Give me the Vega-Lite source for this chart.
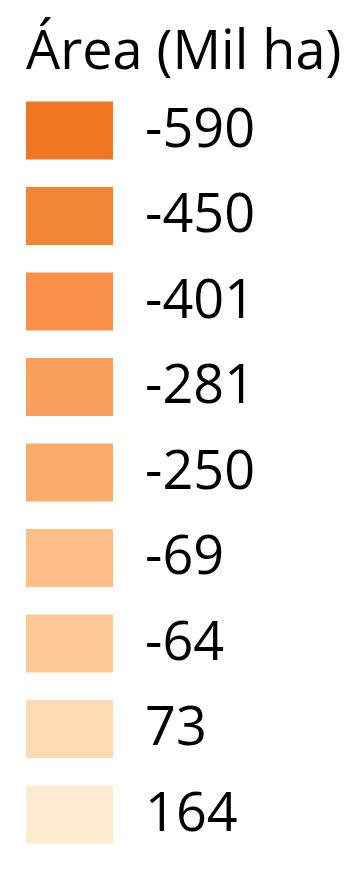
{
  "$schema": "https://vega.github.io/schema/vega-lite/v6.json",
  "width": 360,
  "height": 871,
  "autosize": {"type": "none"},
  "padding": 0,
  "background": "white",
  "data": {
    "values": [
      {"area": "-590", "ord": 1},
      {"area": "-450", "ord": 2},
      {"area": "-401", "ord": 3},
      {"area": "-281", "ord": 4},
      {"area": "-250", "ord": 5},
      {"area": "-69", "ord": 6},
      {"area": "-64", "ord": 7},
      {"area": "73", "ord": 8},
      {"area": "164", "ord": 9}
    ]
  },
  "mark": {"type": "point", "filled": true, "opacity": 0, "size": 0},
  "encoding": {
    "color": {
      "field": "area",
      "type": "ordinal",
      "title": "Área (Mil ha)",
      "sort": {"field": "ord"},
      "scale": {
        "domain": ["-590", "-450", "-401", "-281", "-250", "-69", "-64", "73", "164"],
        "range": ["#EF7623", "#F28638", "#F7904A", "#FAA05D", "#FBAC6C", "#FDBD86", "#FEC996", "#FDDBB3", "#FEEBD0"]
      },
      "legend": {
        "orient": "top-left",
        "offset": 26,
        "padding": 0,
        "symbolType": "M-1,-0.6667L1,-0.6667L1,0.6667L-1,0.6667Z",
        "symbolSize": 7569,
        "symbolOpacity": 1,
        "symbolStrokeWidth": 0,
        "rowPadding": 12.5,
        "labelOffset": 32,
        "labelFont": "Open Sans",
        "labelFontSize": 54,
        "labelColor": "#000000",
        "titleFont": "Open Sans",
        "titleFontSize": 54,
        "titleFontWeight": "normal",
        "titleColor": "#000000",
        "titlePadding": 7,
        "titleLimit": 400,
        "labelLimit": 300
      }
    }
  },
  "config": {"view": {"stroke": null}}
}
